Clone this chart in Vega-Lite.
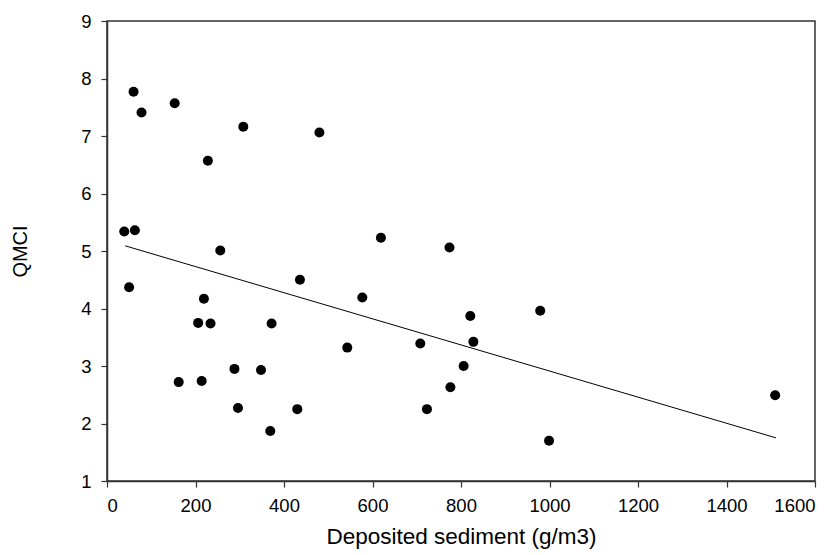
{
  "$schema": "https://vega.github.io/schema/vega-lite/v6.json",
  "width": 708,
  "height": 460,
  "autosize": {"type": "none"},
  "padding": {"left": 107, "top": 21, "right": 23, "bottom": 74},
  "background": "white",
  "config": {
    "view": {"stroke": "#333", "strokeWidth": 1.5},
    "font": "Liberation Sans",
    "axis": {
      "grid": false,
      "domainColor": "#333",
      "domainWidth": 1.5,
      "tickColor": "#333",
      "tickSize": 6,
      "tickWidth": 1.2,
      "labelFont": "Liberation Sans",
      "labelFontSize": 18.5,
      "labelColor": "#000",
      "titleFont": "Liberation Sans",
      "titleFontWeight": "normal",
      "titleColor": "#000",
      "format": "d"
    }
  },
  "datasets": {
    "pts": [
      {"sed": 39, "qmci": 5.34}, {"sed": 63, "qmci": 5.36}, {"sed": 60, "qmci": 7.77},
      {"sed": 78, "qmci": 7.41}, {"sed": 153, "qmci": 7.57}, {"sed": 228, "qmci": 6.57},
      {"sed": 308, "qmci": 7.16}, {"sed": 480, "qmci": 7.06}, {"sed": 256, "qmci": 5.01},
      {"sed": 619, "qmci": 5.23}, {"sed": 774, "qmci": 5.06}, {"sed": 50, "qmci": 4.37},
      {"sed": 219, "qmci": 4.17}, {"sed": 206, "qmci": 3.75}, {"sed": 234, "qmci": 3.74},
      {"sed": 372, "qmci": 3.74}, {"sed": 436, "qmci": 4.50}, {"sed": 577, "qmci": 4.19},
      {"sed": 543, "qmci": 3.32}, {"sed": 162, "qmci": 2.72}, {"sed": 214, "qmci": 2.74},
      {"sed": 288, "qmci": 2.95}, {"sed": 348, "qmci": 2.93}, {"sed": 296, "qmci": 2.27},
      {"sed": 430, "qmci": 2.25}, {"sed": 369, "qmci": 1.87}, {"sed": 708, "qmci": 3.39},
      {"sed": 821, "qmci": 3.87}, {"sed": 828, "qmci": 3.42}, {"sed": 979, "qmci": 3.96},
      {"sed": 806, "qmci": 3.00}, {"sed": 776, "qmci": 2.63}, {"sed": 723, "qmci": 2.25},
      {"sed": 999, "qmci": 1.70}, {"sed": 1510, "qmci": 2.49}
    ],
    "fit": [
      {"sed": 41, "qmci": 5.09}, {"sed": 1512, "qmci": 1.75}
    ]
  },
  "layer": [
    {
      "data": {"name": "fit"},
      "mark": {"type": "line", "color": "#000", "strokeWidth": 1},
      "encoding": {
        "x": {"field": "sed", "type": "quantitative"},
        "y": {"field": "qmci", "type": "quantitative"}
      }
    },
    {
      "data": {"name": "pts"},
      "mark": {"type": "point", "shape": "circle", "filled": true, "color": "#000", "opacity": 1, "size": 100},
      "encoding": {
        "x": {
          "field": "sed", "type": "quantitative",
          "scale": {"domain": [0, 1600], "nice": false, "zero": false},
          "axis": {"values": [0, 200, 400, 600, 800, 1000, 1200, 1400, 1600], "title": "Deposited sediment (g/m3)", "titleFontSize": 22.5, "titlePadding": 11, "labelPadding": 9}
        },
        "y": {
          "field": "qmci", "type": "quantitative",
          "scale": {"domain": [1, 9], "nice": false, "zero": false},
          "axis": {"values": [1, 2, 3, 4, 5, 6, 7, 8, 9], "title": "QMCI", "titleFontSize": 20, "titlePadding": 50, "labelPadding": 10}
        }
      }
    }
  ]
}
